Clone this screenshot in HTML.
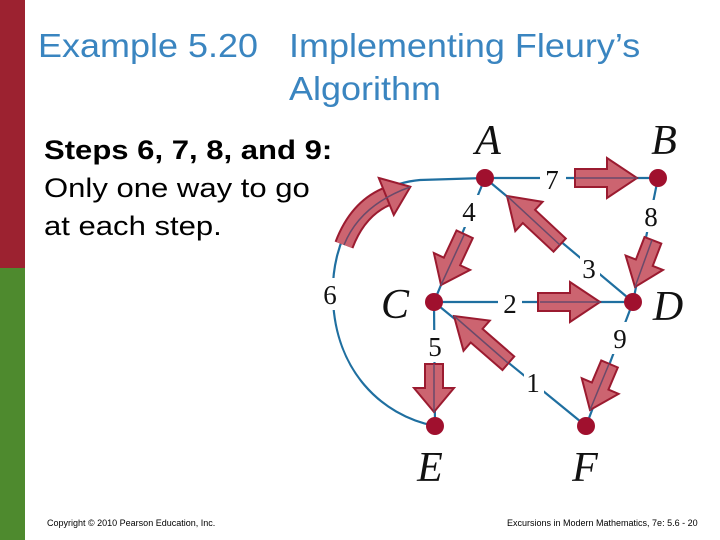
<!DOCTYPE html>
<html><head><meta charset="utf-8"><style>
body{margin:0;width:720px;height:540px;position:relative;background:#fff;overflow:hidden;font-family:"Liberation Sans",sans-serif}
.t{position:absolute;color:#3a85c0;font-size:33px;line-height:43px;transform:scaleX(1.09);transform-origin:0 0;white-space:nowrap}
.b{position:absolute;left:44px;top:131px;font-size:27px;line-height:38px;color:#000;transform:scaleX(1.15);transform-origin:0 0;white-space:nowrap}
.f{position:absolute;top:518px;font-size:9px;color:#000}
</style></head><body>
<div style="position:absolute;left:0;top:0;width:25px;height:268px;background:#9c2230"></div>
<div style="position:absolute;left:0;top:268px;width:25px;height:272px;background:#4e8a2e"></div>
<div class="t" style="left:38px;top:24px">Example 5.20</div>
<div class="t" style="left:289px;top:24px">Implementing Fleury’s<br>Algorithm</div>
<div class="b"><b>Steps 6, 7, 8, and 9:</b><br>Only one way to go<br>at each step.</div>
<div class="f" style="left:47px">Copyright © 2010 Pearson Education, Inc.</div>
<div class="f" style="left:507px">Excursions in Modern Mathematics, 7e: 5.6 - 20</div>
<svg width="720" height="540" style="position:absolute;left:0;top:0">
<g stroke="#1f6fa0" stroke-width="2.2" fill="none">
<path d="M485,178 L420,180 C360,185 330,240 333,300 C336,370 380,415 435,426"/>
<path d="M485,178 L658,178 L633,302 L586,426 L434,302 L633,302 M485,178 L633,302 M485,178 L434,302 L435,426"/>
</g>
<g fill="#fff">
<rect x="540" y="165" width="26" height="26"/><rect x="641" y="200" width="20" height="32"/>
<rect x="580" y="252" width="20" height="30"/><rect x="459" y="195" width="20" height="32"/>
<rect x="498" y="290" width="24" height="26"/><rect x="425" y="330" width="20" height="32"/>
<rect x="524" y="366" width="20" height="30"/><rect x="610" y="322" width="20" height="32"/>
<rect x="318" y="278" width="24" height="32"/>
</g>
<g font-family="Liberation Serif,serif" font-size="27" fill="#111" text-anchor="middle">
<text x="552" y="189">7</text><text x="651" y="226">8</text><text x="589" y="278">3</text>
<text x="469" y="221">4</text><text x="510" y="313">2</text><text x="435" y="356">5</text>
<text x="533" y="392">1</text><text x="620" y="348">9</text><text x="330" y="304">6</text>
</g>
<g font-family="Liberation Serif,serif" font-style="italic" font-size="42" fill="#111" text-anchor="middle">
<text x="488" y="154">A</text><text x="664" y="154">B</text><text x="395" y="318">C</text>
<text x="668" y="320">D</text><text x="430" y="481">E</text><text x="585" y="481">F</text>
</g>
<g fill="#cc6470" stroke="#9b1b30" stroke-width="2">
<polygon points="-62,-9 -30,-9 -30,-20 0,0 -30,20 -30,9 -62,9" transform="translate(637,178)"/>
<polygon points="-62,-9 -30,-9 -30,-20 0,0 -30,20 -30,9 -62,9" transform="translate(600,302)"/>
<polygon points="-50,-9 -26,-9 -26,-20 0,0 -26,20 -26,9 -50,9" transform="translate(635,287) rotate(111)"/>
<polygon points="-56,-9 -26,-9 -26,-20 0,0 -26,20 -26,9 -56,9" transform="translate(441,285) rotate(115)"/>
<polygon points="-72,-9 -30,-9 -30,-20 0,0 -30,20 -30,9 -72,9" transform="translate(507,196) rotate(-137)"/>
<polygon points="-72,-9 -30,-9 -30,-20 0,0 -30,20 -30,9 -72,9" transform="translate(454,316) rotate(-139)"/>
<polygon points="-48,-9 -24,-9 -24,-20 0,0 -24,20 -24,9 -48,9" transform="translate(434,412) rotate(90)"/>
<polygon points="-50,-9 -26,-9 -26,-20 0,0 -26,20 -26,9 -50,9" transform="translate(590,410) rotate(113)"/>
<path d="M344,245 Q358,208 388,196" fill="none" stroke="#9b1b30" stroke-width="20"/>
<path d="M344,245 Q358,208 388,196" fill="none" stroke="#cc6470" stroke-width="16"/>
<polygon points="-4,-20 22,0 -4,20" transform="translate(390,195) rotate(-22)"/>
</g>
<g stroke="#6a4a6a" stroke-width="1.5" fill="none">
<line x1="575" y1="178" x2="637" y2="178"/><line x1="540" y1="302" x2="600" y2="302"/>
<line x1="652" y1="240" x2="635" y2="287"/><line x1="464" y1="235" x2="441" y2="285"/>
<line x1="560" y1="245" x2="507" y2="196"/><line x1="508" y1="363" x2="454" y2="316"/>
<line x1="434" y1="364" x2="434" y2="412"/><line x1="609" y1="364" x2="590" y2="410"/>
<path d="M344,245 Q360,205 410,187"/>
</g>
<g fill="#a0102e">
<circle cx="485" cy="178" r="9"/><circle cx="658" cy="178" r="9"/><circle cx="434" cy="302" r="9"/>
<circle cx="633" cy="302" r="9"/><circle cx="435" cy="426" r="9"/><circle cx="586" cy="426" r="9"/>
</g>
</svg>
</body></html>
